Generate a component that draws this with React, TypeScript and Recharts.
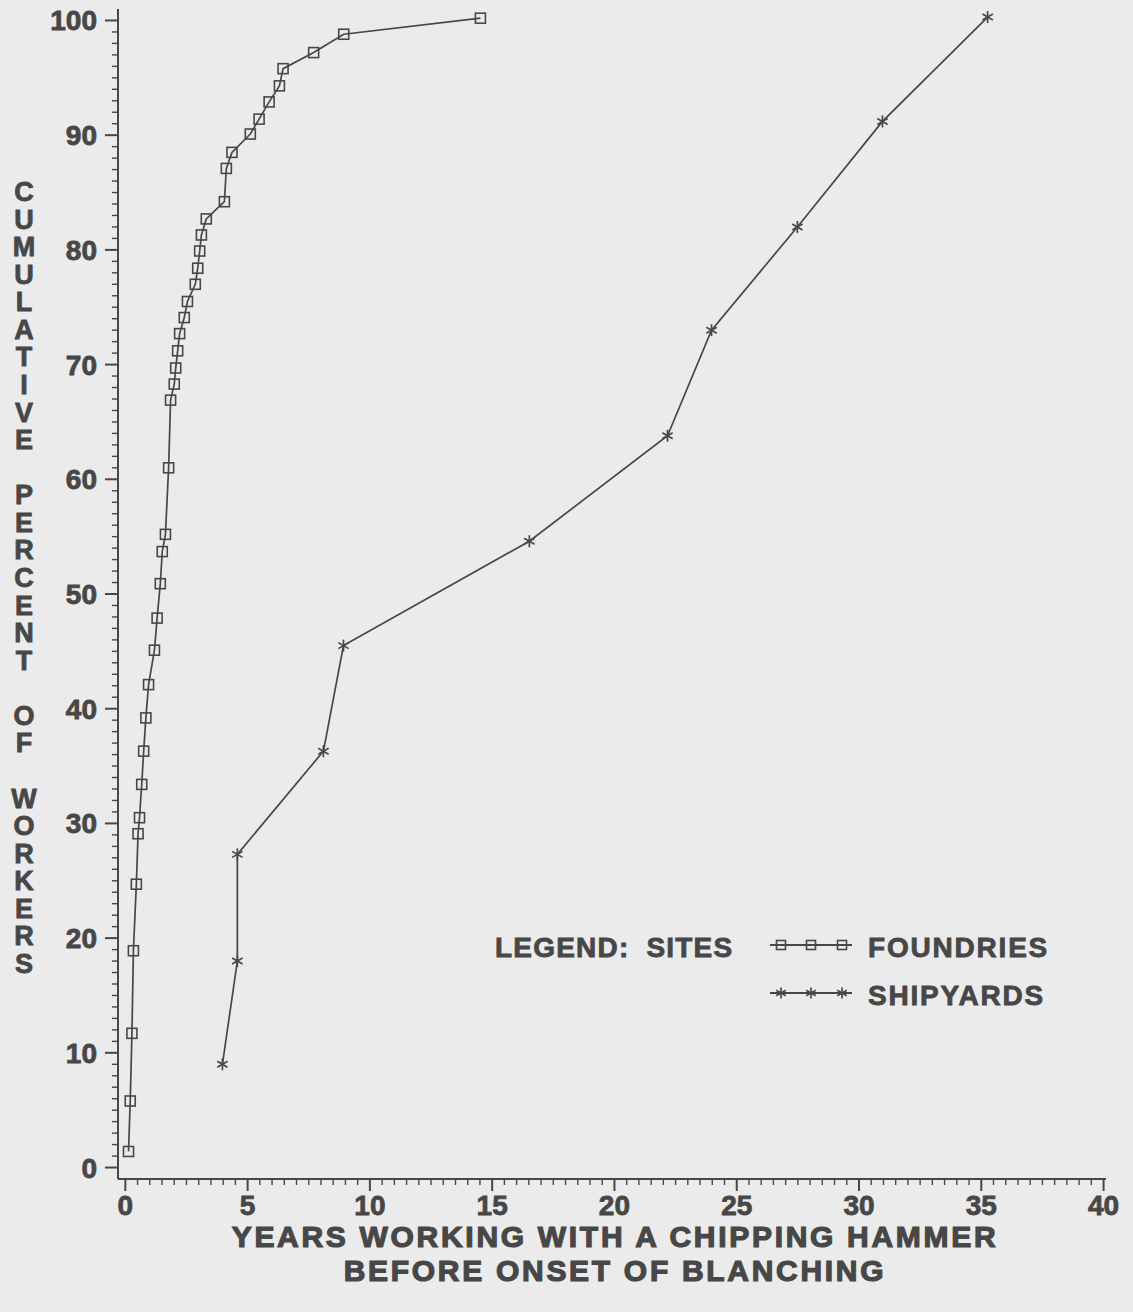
import React from 'react';
import { ScatterChart, Scatter, XAxis, YAxis, Legend, Label } from 'recharts';

// ---- data ----
const foundryYears = [0.13, 0.2, 0.27, 0.33, 0.45, 0.52, 0.58, 0.67, 0.75, 0.84, 0.95, 1.19, 1.3, 1.43, 1.51, 1.64, 1.77, 1.85, 2.0, 2.06, 2.14, 2.22, 2.41, 2.54, 2.86, 2.96, 3.04, 3.11, 3.31, 4.05, 4.13, 4.36, 5.11, 5.47, 5.88, 6.3, 6.45, 7.7, 8.93, 14.52];
const foundryPercent = [1.4, 5.8, 11.7, 18.9, 24.7, 29.1, 30.5, 33.4, 36.3, 39.2, 42.1, 45.1, 47.9, 50.9, 53.7, 55.2, 61.0, 66.9, 68.3, 69.7, 71.2, 72.7, 74.1, 75.5, 77.0, 78.4, 79.9, 81.3, 82.7, 84.2, 87.1, 88.5, 90.1, 91.4, 92.9, 94.3, 95.8, 97.2, 98.8, 100.2];
const shipyardYears = [3.97, 4.58, 4.58, 8.1, 8.92, 16.52, 22.17, 23.97, 27.48, 30.96, 35.26];
const shipyardPercent = [9.0, 18.0, 27.3, 36.3, 45.5, 54.6, 63.8, 73.0, 82.0, 91.2, 100.3];

const seriesNames = ['FOUNDRIES', 'SHIPYARDS'];
const legendTitle = 'LEGEND: SITES';
const xTitleLines = ['YEARS WORKING WITH A CHIPPING HAMMER', 'BEFORE ONSET OF BLANCHING'];
const yTitle = 'CUMULATIVE PERCENT OF WORKERS';

const xMajorTicks = [0, 5, 10, 15, 20, 25, 30, 35, 40];
const yMajorTicks = [0, 10, 20, 30, 40, 50, 60, 70, 80, 90, 100];

// minor tick positions (axis scaffolding)
const xTicks: number[] = [];
for (let v = 0; v <= 40; v += 0.5) xTicks.push(v);
const yTicks: number[] = [];
for (let v = 0; v <= 100; v += 1) yTicks.push(v);

const foundryData = foundryYears.map((x, i) => ({ x, y: foundryPercent[i] }));
const shipyardData = shipyardYears.map((x, i) => ({ x, y: shipyardPercent[i] }));

const INK = '#474747';
const BG = '#ebebeb';
const FONT = '"Liberation Sans", Arial, Helvetica, sans-serif';

const XTick = (props: any) => {
  const { x, y, payload } = props;
  const v = payload.value;
  const major = xMajorTicks.includes(v);
  return (
    <g>
      <line x1={x} x2={x} y1={y} y2={y + (major ? 12 : 6)} stroke={INK} strokeWidth={major ? 2 : 1.4} />
      {major && (
        <text x={x} y={y + 36} textAnchor="middle" fontFamily={FONT} fontWeight={700} fontSize={28} fill={INK} stroke={INK} strokeWidth={0.8}>
          {v}
        </text>
      )}
    </g>
  );
};

const YTick = (props: any) => {
  const { x, y, payload } = props;
  const v = payload.value;
  const major = yMajorTicks.includes(v);
  return (
    <g>
      <line x1={x - (major ? 13 : 6)} x2={x + (major ? 0 : 1)} y1={y} y2={y} stroke={INK} strokeWidth={major ? 2 : 1.4} />
      {major && (
        <text x={x - 21} y={y + 10} textAnchor="end" fontFamily={FONT} fontWeight={700} fontSize={28} fill={INK} stroke={INK} strokeWidth={0.8}>
          {v}
        </text>
      )}
    </g>
  );
};

const Square = (props: any) => {
  const { cx, cy, size = 10 } = props;
  if (cx == null || cy == null) return null;
  const h = size / 2;
  return <rect x={cx - h} y={cy - h} width={size} height={size} fill="none" stroke={INK} strokeWidth={1.6} />;
};

const Star = (props: any) => {
  const { cx, cy, size = 12 } = props;
  if (cx == null || cy == null) return null;
  const r = size / 2;
  const dx = r * Math.cos(Math.PI / 6);
  const dy = r * Math.sin(Math.PI / 6);
  return (
    <g stroke={INK} strokeWidth={1.7}>
      <line x1={cx} y1={cy - r} x2={cx} y2={cy + r} />
      <line x1={cx - dx} y1={cy - dy} x2={cx + dx} y2={cy + dy} />
      <line x1={cx - dx} y1={cy + dy} x2={cx + dx} y2={cy - dy} />
    </g>
  );
};

const LegendContent = (props: any) => {
  const payload = props.payload || [];
  const rows = seriesNames.map((name, i) => {
    const p = payload.find((e: any) => e.value === name);
    return { name: p ? p.value : name, idx: i };
  });
  return (
    <svg width={600} height={110} style={{ overflow: 'visible', display: 'block' }}>
      <text x={5} y={37} fontFamily={FONT} fontWeight={700} fontSize={28} fill={INK} stroke={INK} strokeWidth={0.8} letterSpacing={1.2} wordSpacing={8}>
        {legendTitle}
      </text>
      {rows.map((r) => {
        const ly = r.idx === 0 ? 25 : 73;
        const ty = r.idx === 0 ? 37 : 85;
        return (
          <g key={r.name}>
            <line x1={280} x2={362} y1={ly} y2={ly} stroke={INK} strokeWidth={2.2} />
            {[291, 321, 352].map((mx) =>
              r.idx === 0 ? <Square key={mx} cx={mx} cy={ly} size={9} /> : <Star key={mx} cx={mx} cy={ly} size={11} />
            )}
            <text x={378} y={ty} fontFamily={FONT} fontWeight={700} fontSize={28} fill={INK} stroke={INK} strokeWidth={0.8} letterSpacing={1.8}>
              {r.name}
            </text>
          </g>
        );
      })}
    </svg>
  );
};

const YTitle = () => {
  const letters = yTitle.split('');
  return (
    <text fontFamily={FONT} fontWeight={700} fontSize={27} fill={INK} stroke={INK} strokeWidth={0.8} textAnchor="middle">
      {letters.map((ch, i) => (
        <tspan key={i} x={24} y={201 + i * 27.57}>
          {ch === ' ' ? '\u00a0' : ch}
        </tspan>
      ))}
    </text>
  );
};

const XTitle = () => (
  <g fontFamily={FONT} fontWeight={700} fontSize={30} fill={INK} stroke={INK} strokeWidth={1.2} textAnchor="middle" letterSpacing={2.7}>
    <text x={615} y={1247}>{xTitleLines[0]}</text>
    <text x={615} y={1281}>{xTitleLines[1]}</text>
  </g>
);

export default function App() {
  return (
    <div style={{ position: 'absolute', left: 0, top: 0, width: 1133, height: 1312, background: BG }}>
      <ScatterChart width={1133} height={1312} margin={{ top: 9, right: 27, bottom: 0, left: 0 }}>
        <XAxis
          type="number"
          dataKey="x"
          domain={[-0.3, 40.1]}
          ticks={xTicks}
          interval={0}
          tickSize={0}
          tickMargin={0}
          tickLine={false}
          tick={<XTick />}
          axisLine={{ stroke: INK, strokeWidth: 2 }}
          height={133}
          allowDataOverflow
        >
          <Label content={() => <XTitle />} />
        </XAxis>
        <YAxis
          type="number"
          dataKey="y"
          domain={[-1, 101]}
          ticks={yTicks}
          interval={0}
          tickSize={0}
          tickMargin={0}
          tickLine={false}
          tick={<YTick />}
          axisLine={{ stroke: INK, strokeWidth: 2 }}
          width={118}
          allowDataOverflow
        >
          <Label content={() => <YTitle />} />
        </YAxis>
        <Legend
          verticalAlign="middle"
          align="center"
          layout="horizontal"
          wrapperStyle={{ left: 490, top: 920, width: 600, height: 110 }}
          content={<LegendContent />}
        />
        <Scatter
          name={seriesNames[0]}
          data={foundryData}
          fill="none"
          stroke={INK}
          line={{ stroke: INK, strokeWidth: 1.7 }}
          lineType="joint"
          shape={<Square size={10} />}
          isAnimationActive={false}
        />
        <Scatter
          name={seriesNames[1]}
          data={shipyardData}
          fill="none"
          stroke={INK}
          line={{ stroke: INK, strokeWidth: 1.7 }}
          lineType="joint"
          shape={<Star size={12} />}
          isAnimationActive={false}
        />
      </ScatterChart>
    </div>
  );
}
